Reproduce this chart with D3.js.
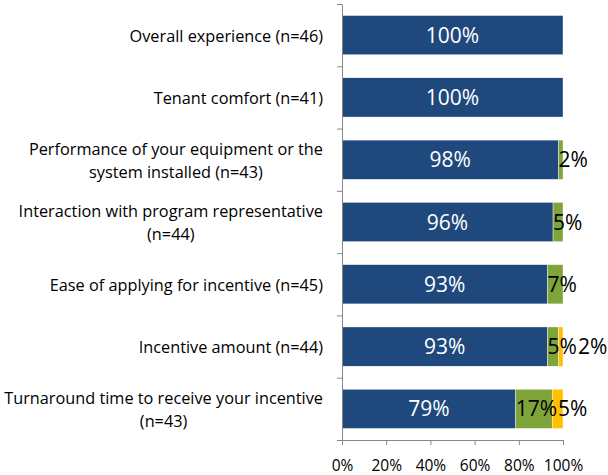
<!DOCTYPE html>
<html>
<head>
<meta charset="utf-8">
<script src="https://cdnjs.cloudflare.com/ajax/libs/d3/7.8.5/d3.min.js"></script>
<style>
  html, body { margin: 0; padding: 0; background: #fff; }
  svg { display: block; font-family: "Open Sans", sans-serif; }
  .axis path, .axis line { stroke: #868686; }
  .axis text { font-family: "Open Sans", sans-serif; }
</style>
</head>
<body>
<svg id="vis" width="608" height="475"></svg>
<script>
// categories, top to bottom; each entry is the label's lines
const categories = [
  ['Overall experience (n=46)'],
  ['Tenant comfort (n=41)'],
  ['Performance of your equipment or the', 'system installed (n=43)'],
  ['Interaction with program representative', '(n=44)'],
  ['Ease of applying for incentive (n=45)'],
  ['Incentive amount (n=44)'],
  ['Turnaround time to receive your incentive', '(n=43)']
];
// series values (percent)
const satisfied   = [100, 100, 98, 95.5, 93, 93, 78.6];
const neutral     = [0, 0, 2, 4.5, 7, 5, 16.5];
const dissatisfied = [0, 0, 0, 0, 0, 2, 4.9];
const xTicks = [0, 20, 40, 60, 80, 100];

const seriesColors = ['#1F497D', '#7FA53A', '#FFC000'];
const seriesText = ['#fff', '#000', '#000'];

const vis = d3.select('#vis');
const plotLeft = 342, plotRight = 563, plotTop = 4, plotBottom = 440;

const x = d3.scaleLinear().domain([0, 100]).range([plotLeft, plotRight]);
const y = d3.scaleBand()
  .domain(d3.range(categories.length))
  .range([plotTop, plotBottom])
  .paddingInner(0.37)
  .paddingOuter(0.185);
const yEdges = d3.scaleLinear().domain([0, categories.length]).range([plotTop, plotBottom]);

const rows = categories.map((c, i) => {
  let x0 = 0;
  return [satisfied[i], neutral[i], dissatisfied[i]].map((v, s) => {
    const seg = { row: i, s: s, v: v, x0: x0, x1: x0 + v };
    x0 += v;
    return seg;
  });
});

// bars
const rowG = vis.selectAll('g.row').data(rows).enter()
  .append('g').classed('row', true);

rowG.selectAll('rect').data(d => d.filter(seg => seg.v > 0)).enter()
  .append('rect')
    .attr('x', d => x(d.x0))
    .attr('y', d => y(d.row))
    .attr('width', d => x(d.x1) - x(d.x0))
    .attr('height', y.bandwidth())
    .attr('fill', d => seriesColors[d.s])
    .attr('stroke', '#fff')
    .attr('stroke-width', 0.4);

// value labels; small segments push their label to the right
rowG.each(function(segs) {
  const g = d3.select(this);
  let prevEnd = -Infinity;
  segs.filter(seg => seg.v > 0).forEach(seg => {
    const t = g.append('text')
      .attr('y', y(seg.row) + y.bandwidth() / 2)
      .attr('dy', '0.36em')
      .attr('fill', seriesText[seg.s])
      .style('font-size', '21px')
      .text(Math.round(seg.v) + '%');
    const w = t.node().getComputedTextLength();
    const segW = x(seg.x1) - x(seg.x0);
    let tx;
    if (w < segW) {
      tx = (x(seg.x0) + x(seg.x1)) / 2 - w / 2;
    } else {
      tx = Math.max(x(seg.x0), prevEnd + 1);
    }
    t.attr('x', tx);
    prevEnd = tx + w;
  });
});

// y axis: line with ticks at category boundaries
vis.append('g')
  .classed('axis', true)
  .attr('transform', `translate(${plotLeft},0)`)
  .call(d3.axisLeft(yEdges).tickValues(d3.range(categories.length + 1)).tickFormat('').tickSize(5).tickSizeOuter(0));

// x axis
vis.append('g')
  .classed('axis', true)
  .attr('transform', `translate(0,${plotBottom})`)
  .call(d3.axisBottom(x).tickValues(xTicks).tickFormat(d => d + '%').tickSize(5).tickSizeOuter(0))
  .call(g => g.selectAll('text').attr('fill', '#000').style('font-size', '15.5px').attr('dy', '1.5em'));

// category labels, block right-aligned, lines centred within block
const labelRight = 323, lineH = 23;
categories.forEach((lines, i) => {
  const cy = y(i) + y.bandwidth() / 2 + 1;
  const t = vis.append('text')
    .attr('text-anchor', 'middle')
    .style('font-size', '16.3px')
    .attr('fill', '#000');
  const spans = lines.map((ln, k) => t.append('tspan')
    .attr('y', cy + (k - (lines.length - 1) / 2) * lineH)
    .attr('dy', '0.35em')
    .text(ln));
  const w = d3.max(spans, s => s.node().getComputedTextLength());
  spans.forEach(s => s.attr('x', labelRight - w / 2));
});
</script>
</body>
</html>
